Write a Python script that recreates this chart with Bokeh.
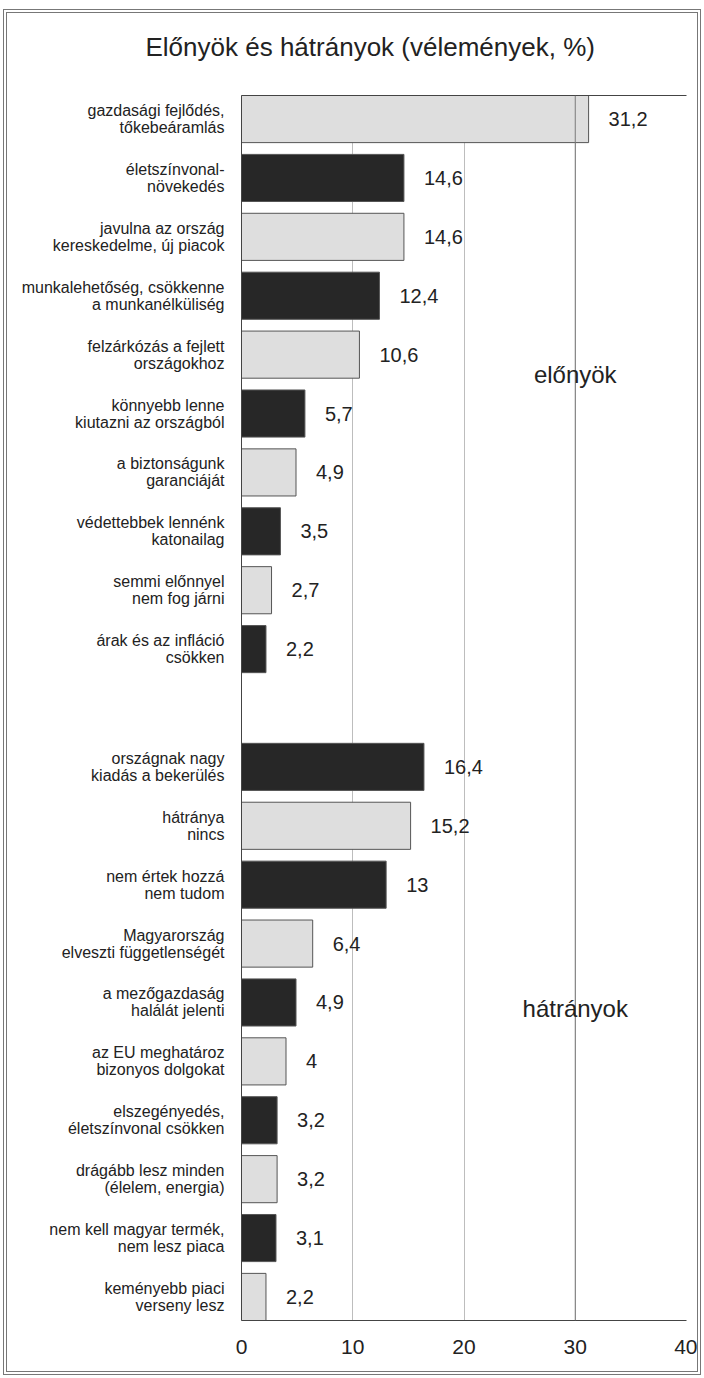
from bokeh.plotting import figure
from bokeh.models import ColumnDataSource, LabelSet, Label, FixedTicker, LinearAxis, Range1d, Span, Title
from bokeh.core.properties import value
from bokeh.embed import file_html
from bokeh.resources import INLINE

title_text = "Előnyök és hátrányok (vélemények, %)"
group_names = ["előnyök", "hátrányok"]

adv_labels = [
    "gazdasági fejlődés,\ntőkebeáramlás",
    "életszínvonal-\nnövekedés",
    "javulna az ország\nkereskedelme, új piacok",
    "munkalehetőség, csökkenne\na munkanélküliség",
    "felzárkózás a fejlett\nországokhoz",
    "könnyebb lenne\nkiutazni az országból",
    "a biztonságunk\ngaranciáját",
    "védettebbek lennénk\nkatonailag",
    "semmi előnnyel\nnem fog járni",
    "árak és az infláció\ncsökken",
]
adv_values = [31.2, 14.6, 14.6, 12.4, 10.6, 5.7, 4.9, 3.5, 2.7, 2.2]

dis_labels = [
    "országnak nagy\nkiadás a bekerülés",
    "hátránya\nnincs",
    "nem értek hozzá\nnem tudom",
    "Magyarország\nelveszti függetlenségét",
    "a mezőgazdaság\nhalálát jelenti",
    "az EU meghatároz\nbizonyos dolgokat",
    "elszegényedés,\néletszínvonal csökken",
    "drágább lesz minden\n(élelem, energia)",
    "nem kell magyar termék,\nnem lesz piaca",
    "keményebb piaci\nverseny lesz",
]
dis_values = [16.4, 15.2, 13, 6.4, 4.9, 4, 3.2, 3.2, 3.1, 2.2]

x_ticks = [0, 10, 20, 30, 40]

FONT = "Liberation Sans"
LIGHT, DARK = "#dedede", "#272727"

labels = adv_labels + dis_labels
values = adv_values + dis_values
n_adv = len(adv_labels)
ypos = list(range(n_adv)) + [n_adv + 1 + i for i in range(len(dis_labels))]
colors = [LIGHT if i % 2 == 0 else DARK for i in range(n_adv)] + \
         [DARK if i % 2 == 0 else LIGHT for i in range(len(dis_labels))]


def fmt(v):
    return f"{v:g}".replace(".", ",")


src = ColumnDataSource(dict(
    y=ypos, v=values, txt=[fmt(v) for v in values], color=colors,
))

p = figure(width=690, height=1358, title=None,
           x_range=Range1d(x_ticks[0], x_ticks[-1]),
           y_range=Range1d(max(ypos) + 0.4, -0.4),
           output_backend="svg", toolbar_location=None,
           min_border_left=234, min_border_right=19,
           min_border_top=82, min_border_bottom=59)
p.styles = {"border": "4px double #777777", "box-sizing": "content-box",
            "margin-left": "3px", "margin-top": "9px"}
p.outline_line_color = None

# grid
p.ygrid.grid_line_color = None
p.xgrid.ticker = FixedTicker(ticks=x_ticks)
p.xgrid.grid_line_color = "#bdbdbd"
p.xgrid.grid_line_width = 1
p.add_layout(Span(location=x_ticks[3], dimension="height", line_color="#7a7a7a", line_width=1))

# bars
p.hbar(y="y", left=0, right="v", height=0.8, fill_color="color",
       line_color="#555555", line_width=1, source=src)

# x axis
p.xaxis.ticker = FixedTicker(ticks=x_ticks)
p.xaxis.major_tick_line_color = None
p.xaxis.minor_tick_line_color = None
p.xaxis.axis_line_color = "#444444"
p.xaxis.major_label_text_font = FONT
p.xaxis.major_label_text_font_size = "21px"
p.xaxis.major_label_text_color = "#222222"
p.xaxis.major_label_standoff = 13

# y axis carries the category labels
p.yaxis.ticker = FixedTicker(ticks=ypos)
p.yaxis.major_label_overrides = {y: lab for y, lab in zip(ypos, labels)}
p.yaxis.major_tick_line_color = None
p.yaxis.minor_tick_line_color = None
p.yaxis.axis_line_color = "#444444"
p.yaxis.major_label_text_font = FONT
p.yaxis.major_label_text_font_size = "16px"
p.yaxis.major_label_text_line_height = 1.0
p.yaxis.major_label_text_color = "#222222"
p.yaxis.major_label_standoff = 11

top_axis = LinearAxis(ticker=FixedTicker(ticks=[]), axis_line_color="#444444",
                      major_tick_line_color=None, minor_tick_line_color=None,
                      major_label_text_font_size="0px")
p.add_layout(top_axis, "above")

# spacer between frame and title
p.add_layout(Title(text=" ", text_font_size="16px"), "above")
# title
p.add_layout(Title(text=title_text, align="left", offset=-96, text_font=FONT,
                   text_font_size="26px", text_font_style="normal",
                   text_color="#222222"), "above")

# value labels
p.add_layout(LabelSet(x="v", y="y", text="txt", source=src, x_offset=20,
                      text_align="left", text_baseline="middle",
                      text_font=value(FONT), text_font_size="20px",
                      text_color="#222222"))

# group labels
p.add_layout(Label(x=x_ticks[3], y=4.33, text=group_names[0], text_align="center",
                   text_baseline="middle", text_font=FONT, text_font_size="24px",
                   text_color="#222222"))
p.add_layout(Label(x=x_ticks[3], y=15.1, text=group_names[1], text_align="center",
                   text_baseline="middle", text_font=FONT, text_font_size="24px",
                   text_color="#222222"))

open("out.html", "w").write(file_html(p, INLINE))
